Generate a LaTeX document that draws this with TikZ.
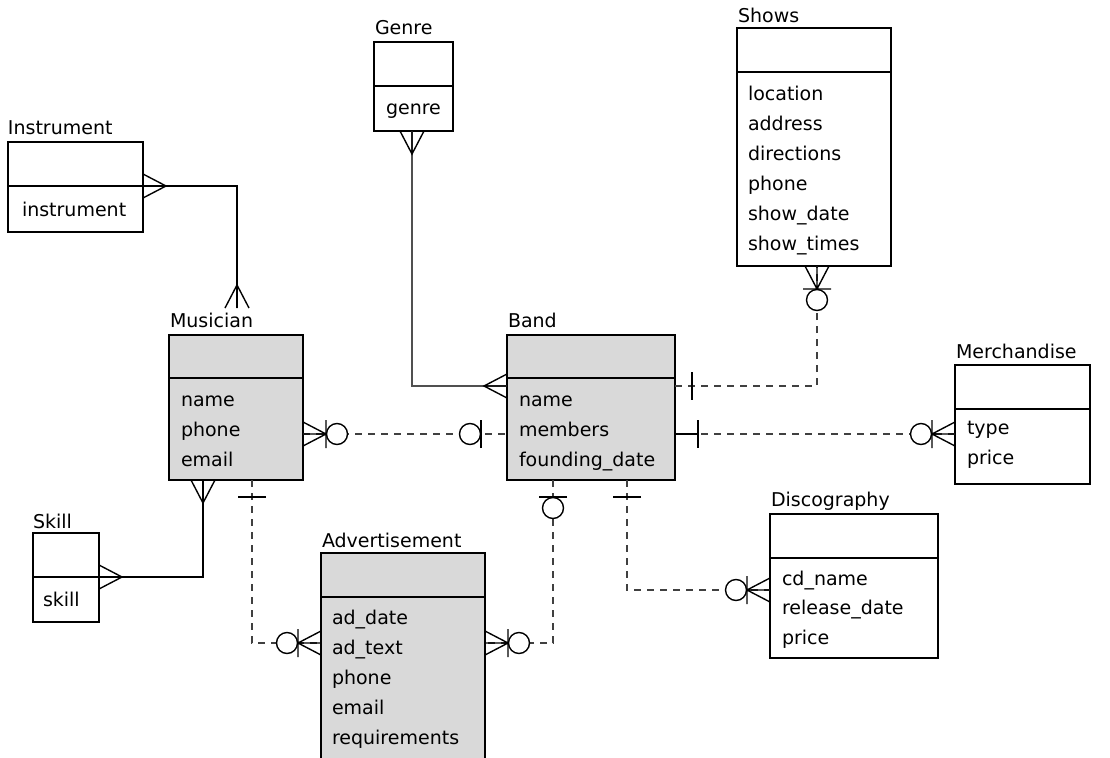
\documentclass[tikz,border=0pt]{standalone}
\usepackage{fontspec}
\setmainfont{DejaVu Sans}
\definecolor{boxgray}{HTML}{D9D9D9}
\definecolor{dashgray}{HTML}{404040}
\definecolor{linegray}{HTML}{505050}
\tikzset{
  box/.style={draw=black, line width=1.5pt, anchor=north west, inner sep=0pt, outer sep=0pt},
  gbox/.style={box, fill=boxgray},
  ttl/.style={anchor=base west, inner sep=0pt, outer sep=0pt, font=\fontsize{19}{23}\selectfont},
  attr/.style={ttl},
  rel/.style={draw=dashgray, line width=1.4pt, dash pattern=on 7pt off 6pt},
  idrel/.style={draw=black, line width=1.4pt},
  sym/.style={draw=black, line width=1.4pt, solid},
  pics/crowfoot/.style={code={\draw[sym] (0,12)--(23,0)--(0,-12) (0,0)--(23,0);}},
  pics/zmany/.style={code={\draw[sym] (0,12)--(23,0)--(0,-12) (0,0)--(23,0) (23,-14)--(23,14);
      \draw[sym,fill=white] (34,0) circle[radius=10.5];}},
  pics/onebar/.style={code={\draw[sym] (#1,-14)--(#1,14);}},
  pics/zeroone/.style={code={\draw[sym] (#1,-14)--(#1,14);
      \draw[sym,fill=white] ({#1+11},0) circle[radius=10.5];}},
}
\newcommand{\divline}[2]{\draw[line width=1.5pt] ([yshift=-#2pt]#1.north west) -- ([yshift=-#2pt]#1.north east);}
\begin{document}
\begin{tikzpicture}[x=1pt,y=-1pt]
\path[use as bounding box, fill=white] (0,0) rectangle (1110,757);
\clip (0,0) rectangle (1110,757);

% ---------- entities ----------
\node[box, minimum width=135pt, minimum height=90pt] (inst) at (8,142) {};
\divline{inst}{44}
\node[ttl] (inst-t) at (8,135) {Instrument};
\node[attr] (inst-a) at (22,216) {instrument};

\node[box, minimum width=79pt, minimum height=89pt] (genre) at (374,42) {};
\divline{genre}{44}
\node[ttl] (genre-t) at (375,35) {Genre};
\node[attr] (genre-a) at (386,115) {genre};

\node[box, minimum width=154pt, minimum height=238pt] (shows) at (737,28) {};
\divline{shows}{44}
\node[ttl] (shows-t) at (738,23) {Shows};
\foreach \t [count=\i from 0] in {location,address,directions,phone,show\_date,show\_times}
  \node[attr] (shows-\i) at (748,{101+29.8*\i}) {\t};

\node[gbox, minimum width=134pt, minimum height=145pt] (mus) at (169,335) {};
\divline{mus}{43}
\node[ttl] (mus-t) at (170,327) {Musician};
\foreach \t [count=\i from 0] in {name,phone,email}
  \node[attr] (mus-\i) at (181,{406+30*\i}) {\t};

\node[gbox, minimum width=168pt, minimum height=145pt] (band) at (507,335) {};
\divline{band}{43}
\node[ttl] (band-t) at (508,327) {Band};
\foreach \t [count=\i from 0] in {name,members,founding\_date}
  \node[attr] (band-\i) at (519,{406+30*\i}) {\t};

\node[box, minimum width=135pt, minimum height=119pt] (merch) at (955,365) {};
\divline{merch}{44}
\node[ttl] (merch-t) at (956,358) {Merchandise};
\foreach \t [count=\i from 0] in {type,price}
  \node[attr] (merch-\i) at (967,{434+30*\i}) {\t};

\node[box, minimum width=168pt, minimum height=144pt] (disc) at (770,514) {};
\divline{disc}{44}
\node[ttl] (disc-t) at (771,506) {Discography};
\foreach \t [count=\i from 0] in {cd\_name,release\_date,price}
  \node[attr] (disc-\i) at (782,{585+29.5*\i}) {\t};

\node[gbox, minimum width=164pt, minimum height=220pt] (adv) at (321,553) {};
\divline{adv}{44}
\node[ttl] (adv-t) at (322,547) {Advertisement};
\foreach \t [count=\i from 0] in {ad\_date,ad\_text,phone,email,requirements}
  \node[attr] (adv-\i) at (332,{624+30*\i}) {\t};

\node[box, minimum width=66pt, minimum height=89pt] (skill) at (33,533) {};
\divline{skill}{44}
\node[ttl] (skill-t) at (33,528) {Skill};
\node[attr] (skill-a) at (43,606) {skill};

% ---------- connection points ----------
\coordinate (im-a) at (143,186);  \coordinate (im-b) at (237,308);
\coordinate (gb-a) at (412,131);  \coordinate (gb-b) at (507,386);
\coordinate (sm-a) at (99,577);   \coordinate (sm-b) at (203,480);
\coordinate (mb-a) at (303,434);  \coordinate (mb-b) at (507,434);
\coordinate (bs-a) at (675,386);  \coordinate (bs-b) at (817,266);
\coordinate (bm-a) at (675,434);  \coordinate (bm-b) at (955,434);
\coordinate (bd-a) at (627,480);  \coordinate (bd-b) at (770,590);
\coordinate (ma-a) at (252,480);  \coordinate (ma-b) at (321,643);
\coordinate (ba-a) at (553,480);  \coordinate (ba-b) at (485,643);

% ---------- identifying (solid) relationships ----------
\draw[idrel] (im-a) -| (im-b);
\pic[rotate=0] at (im-a) {crowfoot};
\pic[rotate=90] at (im-b) {crowfoot};

\draw[idrel, draw=linegray, line width=1.8pt] (gb-a) |- (gb-b);
\pic[rotate=270] at (gb-a) {crowfoot};
\pic[rotate=180] at (gb-b) {crowfoot};

\draw[idrel] (sm-a) -| (sm-b);
\pic[rotate=0] at (sm-a) {crowfoot};
\pic[rotate=270] at (sm-b) {crowfoot};

% ---------- non-identifying (dashed) relationships ----------
\draw[rel] (mb-a) -- (mb-b);
\pic[rotate=0] at (mb-a) {zmany};
\pic[rotate=180] at (mb-b) {zeroone=26};

\draw[rel] (bs-a) -| (bs-b);
\pic[rotate=0] at (bs-a) {onebar=17};
\pic[rotate=270] at (bs-b) {zmany};

\draw[rel] (bm-a) -- (bm-b);
\draw[idrel] (bm-a) -- ++(23,0);
\pic[rotate=0] at (bm-a) {onebar=23};
\pic[rotate=180] at (bm-b) {zmany};

\draw[rel] (bd-a) |- (bd-b);
\pic[rotate=270] at (bd-a) {onebar=17};
\pic[rotate=180] at (bd-b) {zmany};

\draw[rel] (ma-a) |- (ma-b);
\pic[rotate=270] at (ma-a) {onebar=17};
\pic[rotate=180] at (ma-b) {zmany};

\draw[rel] (ba-a) |- (ba-b);
\pic[rotate=270] at (ba-a) {zeroone=17};
\pic[rotate=0] at (ba-b) {zmany};
\end{tikzpicture}
\end{document}
